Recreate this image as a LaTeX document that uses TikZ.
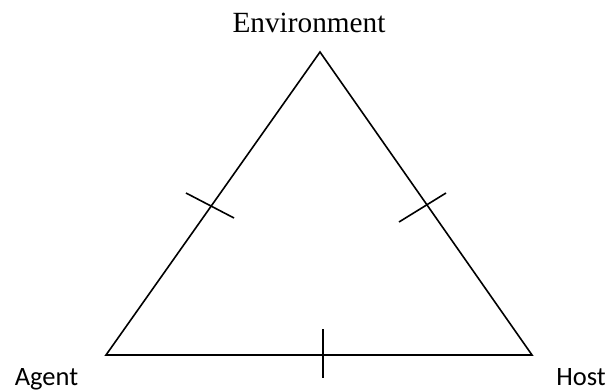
\documentclass[tikz,border=0pt]{standalone}
\usepackage{fontspec}
\setmainfont{Liberation Serif}
\newfontfamily\calib{Carlito}
\begin{document}
\begin{tikzpicture}[x=1pt,y=-1pt,
  edge/.style={line width=1.6pt},
  tick/.style={line width=1.6pt},
  serlabel/.style={font=\fontsize{29.3}{33}\selectfont, inner sep=0pt, anchor=base},
  sanlabel/.style={font=\calib\fontsize{26.5}{30}\selectfont, inner sep=0pt, anchor=base}]
\useasboundingbox (0,0) rectangle (610,391);
\coordinate (E) at (320,52);
\coordinate (A) at (106,355);
\coordinate (H) at (532,355);
\draw[edge, line join=miter] (E) -- (H) -- (A) -- cycle;
\coordinate (l1) at (186,193);
\coordinate (l2) at (234,218);
\coordinate (r1) at (399,222);
\coordinate (r2) at (446,193);
\coordinate (b1) at (323,329);
\coordinate (b2) at (323,378);
\draw[tick] (l1) -- (l2);
\draw[tick] (r1) -- (r2);
\draw[tick] (b1) -- (b2);
\node[serlabel] (env) at (309,32) {Environment};
\node[sanlabel] (agent) at (46.5,385) {Agent};
\node[sanlabel] (host) at (581,385) {Host};
\end{tikzpicture}
\end{document}
